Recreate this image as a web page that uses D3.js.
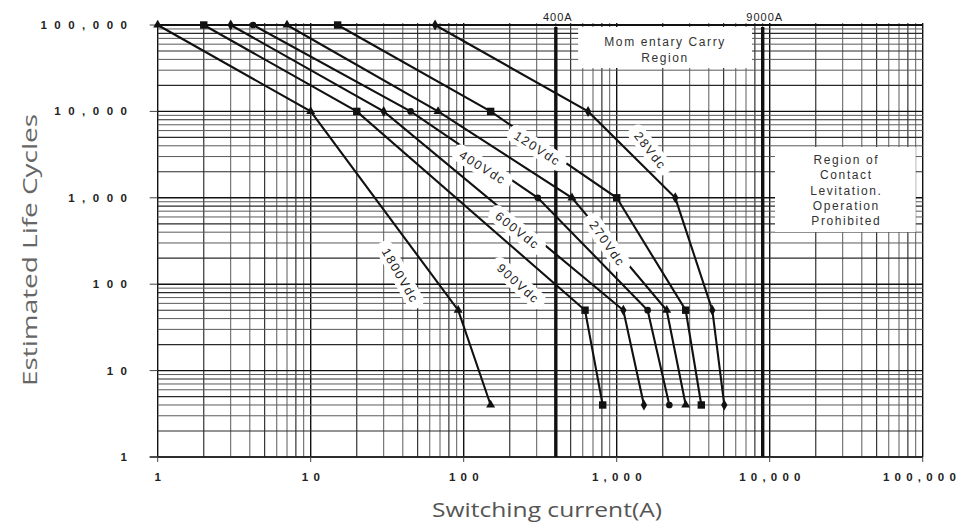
<!DOCTYPE html>
<html><head><meta charset="utf-8">
<script src="https://cdn.jsdelivr.net/npm/d3@7"></script>
<style>body{margin:0;background:#fff;overflow:hidden}</style>
</head><body>
<svg id="c" width="963" height="522"></svg>
<script>
// ---------- data ----------
const xTicks = [1, 10, 100, 1000, 10000, 100000];
const yTicks = [1, 10, 100, 1000, 10000, 100000];
const seriesNames = ["28Vdc", "120Vdc", "270Vdc", "400Vdc", "600Vdc", "900Vdc", "1800Vdc"];
const current28 = [65, 650, 2415, 4217, 5049];
const cycles28 = [100000, 10000, 1000, 50, 4];
const current120 = [15, 150, 1000, 2825, 3573];
const cycles120 = [100000, 10000, 1000, 50, 4];
const current270 = [7, 68, 510, 2122, 2825];
const cycles270 = [100000, 10000, 1000, 50, 4];
const current400 = [4.2, 45, 305, 1593, 2208];
const cycles400 = [100000, 10000, 1000, 50, 4];
const current600 = [3, 30, 1105, 1507];
const cycles600 = [100000, 10000, 50, 4];
const current900 = [2, 20, 621, 810];
const cycles900 = [100000, 10000, 50, 4];
const current1800 = [1, 10, 92, 150];
const cycles1800 = [100000, 10000, 50, 4];
const limitCurrents = [400, 9000];
const limitLabels = ["400A", "9000A"];
const carryText = ["Mom entary Carry", "Region"];
const levitationText = ["Region of", "Contact", "Levitation.", "Operation", "Prohibited"];

const seriesCurrents = [current28, current120, current270, current400, current600, current900, current1800];
const seriesCycles = [cycles28, cycles120, cycles270, cycles400, cycles600, cycles900, cycles1800];

// ---------- layout / style ----------
const markerType = ["diamond", "square", "triangle", "circle", "diamond", "square", "triangle"];
const labelPos = [[1651, 3575, 52], [301, 3770, 33], [864, 300, 55], [132, 2271, 32], [223, 424, 38], [226, 103, 42], [38.3, 128, 60]];

const svg = d3.select("#c");
const x = d3.scaleLog().domain([1, 1e5]).range([157.7, 922.7]);
const y = d3.scaleLog().domain([1, 1e5]).range([457, 25]);

// grid
const gridVals = [];
for (let n = 0; n < 5; n++) for (let k = 1; k <= 9; k++) gridVals.push({v: k * Math.pow(10, n), k});
gridVals.push({v: 1e5, k: 1});
function gStroke(k) { return k === 1 ? "#111" : (k === 2 || k === 5 || k === 8) ? "#2a2a2a" : "#5a5a5a"; }
function gWidth(k) { return k === 1 ? 1.4 : (k === 2 || k === 5 || k === 8) ? 1.15 : 1; }

const grid = svg.append("g");
grid.selectAll("line.v").data(gridVals).enter().append("line")
  .attr("x1", d => x(d.v)).attr("x2", d => x(d.v))
  .attr("y1", y(1e5) - 2).attr("y2", y(1))
  .attr("stroke", d => gStroke(d.k)).attr("stroke-width", d => gWidth(d.k));
grid.selectAll("line.h").data(gridVals).enter().append("line")
  .attr("y1", d => y(d.v)).attr("y2", d => y(d.v))
  .attr("x1", x(1)).attr("x2", x(1e5))
  .attr("stroke", d => gStroke(d.k)).attr("stroke-width", d => d.v === 1e5 ? 2.2 : gWidth(d.k));

// axes ticks
const axisG = svg.append("g");
axisG.append("line").attr("x1", x(1) - 8).attr("x2", x(1e5)).attr("y1", y(1)).attr("y2", y(1)).attr("stroke", "#222").attr("stroke-width", 1.4);
axisG.selectAll("line.yt").data(yTicks).enter().append("line")
  .attr("x1", x(1) - 8).attr("x2", x(1)).attr("y1", d => y(d)).attr("y2", d => y(d)).attr("stroke", "#444");
axisG.selectAll("line.xt").data(xTicks).enter().append("line")
  .attr("x1", d => x(d)).attr("x2", d => x(d)).attr("y1", y(1)).attr("y2", y(1) + 5).attr("stroke", "#444");

const fmt = d3.format(",");
axisG.selectAll("text.yl").data(yTicks).enter().append("text")
  .attr("x", 127 + 7.5).attr("y", d => y(d) + 4)
  .attr("text-anchor", "end")
  .style("font-family", "Liberation Sans, Arial, sans-serif").style("font-weight", "bold")
  .style("font-size", "11.5px").style("letter-spacing", "7.5px").attr("fill", "#222")
  .text(d => fmt(d));
axisG.selectAll("text.xl").data(xTicks).enter().append("text")
  .attr("x", d => x(d) + 2.7).attr("y", 481)
  .attr("text-anchor", "middle")
  .style("font-family", "Liberation Sans, Arial, sans-serif").style("font-weight", "bold")
  .style("font-size", "11.5px").style("letter-spacing", "5.2px").attr("fill", "#222")
  .text(d => fmt(d))
  .each(function(d) {
    const b = this.getBBox();
    if (b.x + b.width > 961) d3.select(this).attr("x", +d3.select(this).attr("x") - (b.x + b.width - 961));
  });

// limit lines
const lim = svg.append("g");
lim.selectAll("line").data(limitCurrents).enter().append("line")
  .attr("x1", d => x(d)).attr("x2", d => x(d)).attr("y1", y(1e5) + 2).attr("y2", y(1))
  .attr("stroke", "#111").attr("stroke-width", 3.4);
lim.selectAll("text").data(limitCurrents).enter().append("text")
  .attr("x", d => x(d) + 2).attr("y", 21).attr("text-anchor", "middle")
  .style("font-family", "Liberation Sans, Arial, sans-serif").style("font-size", "11px")
  .style("letter-spacing", "1px").attr("fill", "#222")
  .text((d, i) => limitLabels[i]);

// region boxes
const regionFont = g => g.style("font-family", "Liberation Sans, Arial, sans-serif").style("font-size", "12px").style("letter-spacing", "1.6px").attr("fill", "#333").attr("text-anchor", "middle");
svg.append("rect").attr("x", x(560)).attr("y", y(1e5) + 2).attr("width", x(7660) - x(560)).attr("height", y(31800) - y(1e5) - 2).attr("fill", "#fff");
svg.append("g").selectAll("text").data(carryText).enter().append("text")
  .attr("x", (x(560) + x(7660)) / 2).attr("y", (d, i) => 46 + i * 16).call(regionFont).text(d => d);
svg.append("rect").attr("x", x(10830)).attr("y", y(3873)).attr("width", x(90000) - x(10830)).attr("height", y(402) - y(3873)).attr("fill", "#fff");
svg.append("g").selectAll("text").data(levitationText).enter().append("text")
  .attr("x", (x(10830) + x(90000)) / 2 + 1).attr("y", (d, i) => y(3873) + 17 + i * 15.3).call(regionFont).text(d => d);

// curves
const line = d3.line().x(d => x(d[0])).y(d => y(d[1]));
const curves = svg.append("g");
seriesNames.forEach((name, i) => {
  const pts = seriesCurrents[i].map((c, j) => [c, seriesCycles[i][j]]);
  curves.append("path").attr("d", line(pts)).attr("fill", "none").attr("stroke", "#111").attr("stroke-width", 2.1);
  const sym = {diamond: d3.symbolDiamond, square: d3.symbolSquare, triangle: d3.symbolTriangle, circle: d3.symbolCircle}[markerType[i]];
  curves.selectAll(null).data(pts).enter().append("path")
    .attr("transform", d => `translate(${x(d[0])},${y(d[1])})`)
    .attr("d", d3.symbol().type(sym).size(markerType[i] === "square" ? 55 : 35))
    .attr("fill", "#111");
});

// series labels
const lab = svg.append("g");
seriesNames.forEach((name, i) => {
  const [lx, ly, ang] = labelPos[i];
  const g = lab.append("g").attr("transform", `translate(${x(lx)},${y(ly)}) rotate(${ang})`);
  const r = g.append("rect").attr("fill", "#fff");
  const t = g.append("text").attr("x", 0.8).attr("y", 4.5).attr("text-anchor", "middle")
    .style("font-family", "Liberation Sans, Arial, sans-serif").style("font-size", "12.5px")
    .style("letter-spacing", "1.7px").attr("fill", "#222").text(name);
  const w = t.node().getComputedTextLength();
  r.attr("x", -w / 2 - 7).attr("y", -9).attr("width", w + 14).attr("height", 18).attr("rx", 7);
});

// axis titles
svg.append("text").attr("x", 547).attr("y", 517).attr("text-anchor", "middle")
  .attr("textLength", 230).attr("lengthAdjust", "spacingAndGlyphs")
  .style("font-family", "Open Sans, sans-serif").style("font-size", "20px").attr("fill", "#555")
  .text("Switching current(A)");
svg.append("text").attr("transform", "translate(37,250) rotate(-90)").attr("text-anchor", "middle")
  .attr("textLength", 272).attr("lengthAdjust", "spacingAndGlyphs")
  .style("font-family", "Open Sans, sans-serif").style("font-size", "20px").attr("fill", "#666")
  .text("Estimated Life Cycles");
</script>
</body></html>
